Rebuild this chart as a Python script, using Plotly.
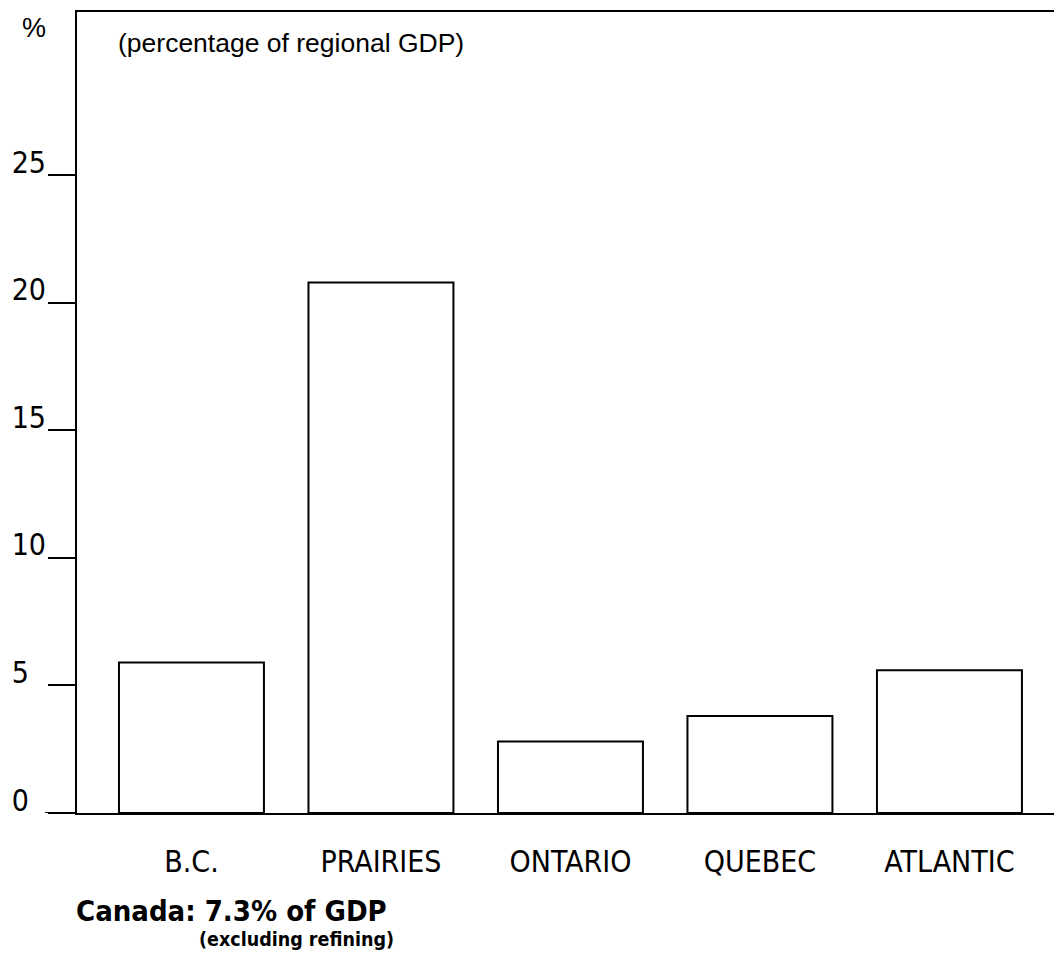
import plotly.graph_objects as go

regions = ["B.C.", "PRAIRIES", "ONTARIO", "QUEBEC", "ATLANTIC"]
share_pct = [5.9, 20.8, 2.8, 3.8, 5.6]
y_ticks = [0, 5, 10, 15, 20, 25]
y_tick_labels = ["0", "5", "10", "15", "20", "25"]

NARROW = "Liberation Sans Narrow, Arial Narrow, DejaVu Sans Condensed, sans-serif"
REG = "Liberation Sans, Arial, sans-serif"

OFF = 8  # page body margin
FW, FH = 1062 - OFF, 980 - OFF

# single-digit labels sit further left in the original (pad them on the right)
shown_tick_text = [t + "\u2007" if len(t) == 1 else t for t in y_tick_labels]

fig = go.Figure()
fig.add_trace(go.Bar(
    x=regions, y=share_pct,
    marker=dict(color="white", line=dict(color="black", width=2)),
    width=0.765,
))

L, R, T = 77 - OFF, 0, 12 - OFF
B = FH - (813 - OFF)
W = FW - L - R
H = FH - T - B


def px_x(x):
    return (x - OFF - L) / W


def px_y(y):
    return 1 - (y - OFF - T) / H


fig.update_layout(
    width=FW, height=FH,
    margin=dict(l=L, r=R, t=T, b=B, pad=0, autoexpand=False),
    paper_bgcolor="white", plot_bgcolor="white",
    showlegend=False,
    xaxis=dict(
        range=[-0.604, 4.594], showline=True, linecolor="black", linewidth=2,
        mirror=True, showgrid=False, ticks="", zeroline=False, automargin=False,
        tickfont=dict(family=NARROW, size=30, color="black"),
        ticklabelstandoff=21,
    ),
    yaxis=dict(
        range=[0, 31.4], showline=True, linecolor="black", linewidth=2,
        showgrid=False, zeroline=False, automargin=False,
        tickvals=y_ticks, ticktext=shown_tick_text,
        ticks="outside", ticklen=27, tickwidth=1.5, tickcolor="black",
        tickfont=dict(family=NARROW, size=30, color="black"),
        ticklabelshift=-13, ticklabelstandoff=-4,
    ),
    shapes=[dict(type="line", xref="paper", yref="y",
                 x0=px_x(45), x1=0, y0=0, y1=0,
                 line=dict(color="black", width=2))],
    annotations=[
        dict(text="%", xref="paper", yref="paper", x=px_x(20), y=px_y(28),
             xanchor="left", yanchor="middle", showarrow=False,
             font=dict(family=REG, size=27, color="black")),
        dict(text="(percentage of regional GDP)", xref="paper", yref="paper",
             x=px_x(116), y=px_y(43),
             xanchor="left", yanchor="middle", showarrow=False,
             font=dict(family=REG, size=26.5, color="black")),
        dict(text="<b>Canada: 7.3% of GDP</b>", xref="paper", yref="paper",
             x=px_x(74), y=px_y(911),
             xanchor="left", yanchor="middle", showarrow=False,
             font=dict(family=NARROW, size=29, color="black")),
        dict(text="<b>(excluding refining)</b>", xref="paper", yref="paper",
             x=px_x(197), y=px_y(939),
             xanchor="left", yanchor="middle", showarrow=False,
             font=dict(family=NARROW, size=19.5, color="black")),
    ],
)

fig.write_html("out.html")
